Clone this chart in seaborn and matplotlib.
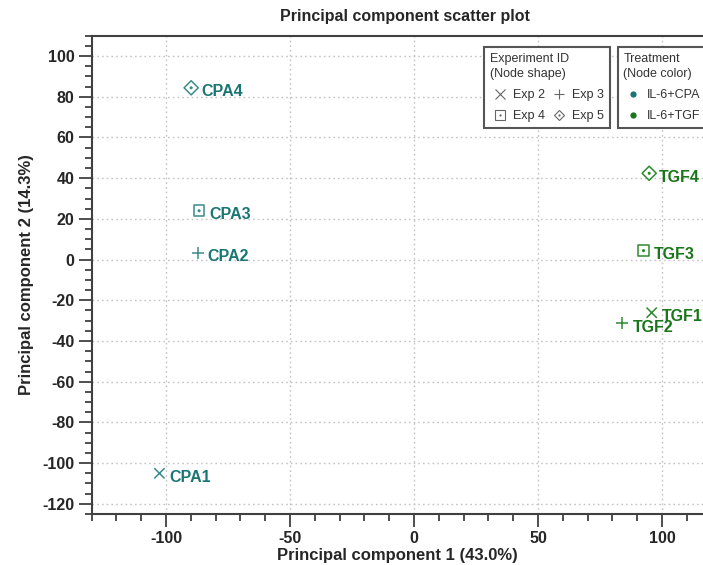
import matplotlib
matplotlib.use("Agg")
import matplotlib.pyplot as plt
from matplotlib.lines import Line2D
from matplotlib.legend_handler import HandlerTuple
from matplotlib.ticker import MultipleLocator
import seaborn as sns
import pandas as pd

# ---- data ----
samples = ["CPA1", "CPA2", "CPA3", "CPA4", "TGF1", "TGF2", "TGF3", "TGF4"]
pc1 = [-102.7, -87.2, -86.7, -89.9, 95.8, 84.0, 92.5, 94.8]
pc2 = [-105.0, 3.4, 24.0, 84.4, -26.1, -31.3, 4.4, 42.4]
experiment = ["Exp 2", "Exp 3", "Exp 4", "Exp 5", "Exp 2", "Exp 3", "Exp 4", "Exp 5"]
treatment = ["IL-6+CPA"] * 4 + ["IL-6+TGF"] * 4
exp_order = ["Exp 2", "Exp 3", "Exp 4", "Exp 5"]
treat_order = ["IL-6+CPA", "IL-6+TGF"]
x_ticks = [-100, -50, 0, 50, 100]
y_ticks = [-120, -100, -80, -60, -40, -20, 0, 20, 40, 60, 80, 100]

df = pd.DataFrame({"sample": samples, "pc1": pc1, "pc2": pc2,
                   "experiment": experiment, "treatment": treatment})

text_pal = {"IL-6+CPA": "#1b7575", "IL-6+TGF": "#1a761a"}
mark_pal = {"IL-6+CPA": "#3a8c8c", "IL-6+TGF": "#2f8a2f"}
markers = {"Exp 2": "x", "Exp 3": "+", "Exp 4": "s", "Exp 5": "D"}
sizes = {"Exp 2": 55, "Exp 3": 75, "Exp 4": 58, "Exp 5": 52}
hollow = {"Exp 4", "Exp 5"}

sns.set_style("white")
plt.rcParams["font.family"] = ["Liberation Sans", "DejaVu Sans"]
plt.rcParams["axes.unicode_minus"] = False

W, H = 703, 565
fig = plt.figure(figsize=(W / 100, H / 100), dpi=100)
ax = fig.add_axes([91.7 / W, 1 - 514 / H, 1 - 91.7 / W, (514 - 35.7) / H])

for ex in exp_order:
    sub = df[df["experiment"] == ex]
    sns.scatterplot(data=sub, x="pc1", y="pc2", hue="treatment", palette=mark_pal,
                    hue_order=treat_order, marker=markers[ex], s=sizes[ex],
                    linewidth=1.1, legend=False, ax=ax, zorder=3)
    coll = ax.collections[-1]
    if ex in hollow:
        fc = coll.get_facecolors()
        coll.set_edgecolors(fc)
        coll.set_facecolors("none")
        sns.scatterplot(data=sub, x="pc1", y="pc2", hue="treatment", palette=mark_pal,
                        hue_order=treat_order, marker="o", s=5, linewidth=0,
                        legend=False, ax=ax, zorder=3)

for _, r in df.iterrows():
    ax.annotate(r["sample"], (r["pc1"], r["pc2"]), xytext=(7.2, -3),
                textcoords="offset points", ha="left", va="center",
                fontsize=11.5, fontweight="bold", color=text_pal[r["treatment"]], zorder=4)

ax.set_xlim(-130, 116.5)
ax.set_ylim(-125, 110)
ax.set_xticks(x_ticks)
ax.set_yticks(y_ticks)
ax.xaxis.set_minor_locator(MultipleLocator(10))
ax.yaxis.set_minor_locator(MultipleLocator(5))
ax.tick_params(which="major", direction="out", length=9.5, width=1.3, color="#404040",
               labelsize=11.5, pad=3)
ax.tick_params(which="minor", direction="out", length=5, width=1.3, color="#404040")
ax.tick_params(axis="both", which="both", bottom=True, left=True, top=False, right=False)
for lbl in ax.get_xticklabels() + ax.get_yticklabels():
    lbl.set_fontweight("bold")
ax.grid(True, which="major", linestyle=(0, (1.2, 2.2)), color="#c4c4c4", linewidth=1.0)
ax.set_axisbelow(True)
for side in ["left", "bottom", "top"]:
    ax.spines[side].set_visible(True)
    ax.spines[side].set_color("#404040")
    ax.spines[side].set_linewidth(1.5)
ax.spines["right"].set_visible(False)

ax.set_xlabel("Principal component 1 (43.0%)", fontsize=12, fontweight="bold", labelpad=1)
ax.set_ylabel("Principal component 2 (14.3%)", fontsize=12, fontweight="bold", labelpad=6)
fig.text(405 / W, 1 - 17 / H, "Principal component scatter plot", ha="center", va="center",
         fontsize=11.5, fontweight="bold")

# ---- legends ----
g = "#666666"
def shape_handle(ex):
    base = Line2D([], [], marker=markers[ex], ls="", color=g, mfc="none",
                  markersize=6.5 if ex != "Exp 5" else 5.5, mew=0.8)
    if ex in hollow:
        return (base, Line2D([], [], marker="o", ls="", color=g, markersize=1.6, mew=0))
    return base

leg_kw = dict(title_fontsize=9, fontsize=9, handlelength=1.6, handletextpad=0.25,
              labelspacing=0.72, borderpad=0.45, frameon=True, fancybox=False,
              edgecolor="#555555", framealpha=1, loc="upper left",
              bbox_transform=fig.transFigure, borderaxespad=0, alignment="left",
              labelcolor="#333333")

order = ["Exp 2", "Exp 4", "Exp 3", "Exp 5"]
leg1 = ax.legend([shape_handle(e) for e in order], order, ncol=2,
                 title="Experiment ID\n(Node shape)", columnspacing=0.35,
                 bbox_to_anchor=(484 / W, 1 - 47 / H),
                 handler_map={tuple: HandlerTuple(ndivide=1)}, **leg_kw)
leg1.get_frame().set_linewidth(1.5)
leg1.get_title().set_color("#333333")
leg1.get_title().set_linespacing(1.4)
ax.add_artist(leg1)

th = [Line2D([], [], marker="o", ls="", color=text_pal[t], markersize=4.5, mew=0)
      for t in treat_order]
leg2 = ax.legend(th, treat_order, title="Treatment\n(Node color)",
                 bbox_to_anchor=(617.7 / W, 1 - 47 / H), **leg_kw)
leg2.get_frame().set_linewidth(1.5)
leg2.get_title().set_color("#333333")
leg2.get_title().set_linespacing(1.4)

fig.savefig("out.png", dpi=100)
